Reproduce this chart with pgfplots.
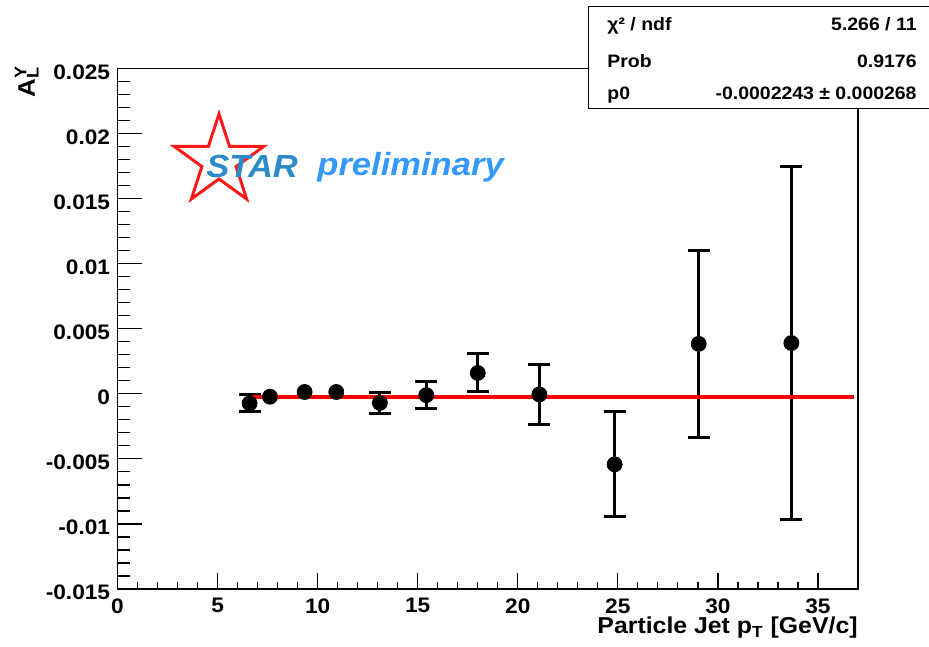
\documentclass[border=0pt]{standalone}
\usepackage{fontspec}
\setmainfont{Liberation Sans}[FakeStretch=1.08]
\usepackage{pgfplots}
\pgfplotsset{compat=1.18}
\definecolor{starblue}{RGB}{45,140,200}
\definecolor{prelblue}{RGB}{51,153,255}
\pgfplotsset{
  rootframe/.style={
    at={(0,0)}, anchor=south west,
    width=370.25bp, height=260.25bp, scale only axis,
    xmin=0, xmax=37, ymin=-0.015, ymax=0.025,
    axis line style={line width=0.6bp},
    tick align=inside, tick pos=left,
    tick style={line width=0.6bp, black},
    scaled x ticks=false, scaled y ticks=false,
  }
}
\begin{document}
\begin{tikzpicture}
% axis carrying the y ticks
\begin{axis}[rootframe,
  xtick=\empty,
  ytick={-0.015,-0.01,-0.005,0,0.005,0.01,0.015,0.02,0.025},
  yticklabels={-0.015,-0.01,-0.005,0,0.005,0.01,0.015,0.02,0.025},
  minor y tick num=4,
  major tick length=12bp, minor tick length=6bp,
  yticklabel style={font=\fontsize{10.5bp}{12bp}\selectfont\bfseries, inner sep=0pt, anchor=east, xshift=-3.5bp, yshift=-1.75bp},
]
\end{axis}
% axis carrying the x ticks and the data
\begin{axis}[rootframe,
  ytick=\empty,
  xtick={0,5,10,15,20,25,30,35},
  xticklabels={0,5,10,15,20,25,30,35},
  minor x tick num=4,
  major tick length=8bp, minor tick length=3.75bp,
  xticklabel style={font=\fontsize{10.5bp}{12bp}\selectfont\bfseries, inner sep=0pt, anchor=north, yshift=-4.5bp},
]
\addplot[only marks, mark=*, mark size=3.75bp, black, mark options={fill=black, draw=black},
  error bars/.cd, y dir=both, y explicit,
  error bar style={line width=1.5bp, black},
  error mark options={rotate=90, mark size=5.5bp, line width=1.5bp, black}]
  table[x=x, y=y, y error=e] {
x      y          e
6.60   -0.000735  0.000645
13.11  -0.00070   0.00078
15.43  -0.00010   0.00106
18.00   0.00160   0.00146
21.08  -0.00005   0.00230
24.84  -0.00542   0.00403
29.04   0.00384   0.00721
33.67   0.00390   0.01355
};
\addplot[only marks, mark=*, mark size=3.75bp, black, mark options={fill=black, draw=black}]
  table[x=x, y=y] {
x      y
7.62  -0.00022
9.35   0.00014
10.93  0.00014
};
\addplot[red, line width=2bp] coordinates {(6.71,-0.0002243) (36.82,-0.0002243)};
\end{axis}
\begin{scope}[shift={(-58.75bp,294.5bp)}, x=0.5bp, y=-0.5bp]
  % STAR logo
  \begin{scope}[shift={(219,161)}, yscale=-1]
    \draw[red!90!white, line width=1.5bp, line join=miter]
      (90:47) -- (126:18) -- (162:47) -- (198:18) -- (234:47) -- (270:18)
      -- (306:47) -- (342:18) -- (18:47) -- (54:18) -- cycle;
  \end{scope}
  \node[anchor=base west, inner sep=0pt, font=\fontsize{16bp}{18bp}\selectfont\bfseries\itshape, text=starblue] at (206,178) {STAR};
  \node[anchor=base west, inner sep=0pt, font=\fontsize{16bp}{18bp}\selectfont\bfseries\itshape, text=prelblue] at (317,176) {preliminary};
  % stats box
  \draw[fill=white, line width=0.5bp] (588,7) rectangle (945,109);
  \begin{scope}[every node/.style={inner sep=0pt, font=\fontsize{9bp}{10bp}\selectfont\bfseries}]
    \node[anchor=base west] at (607,31) {χ² / ndf};
    \node[anchor=base east] at (917,31) {5.266 / 11};
    \node[anchor=base west] at (607,68) {Prob};
    \node[anchor=base east] at (917,68) {0.9176};
    \node[anchor=base west] at (607,100) {p0};
    \node[anchor=base east] at (917,100) {-0.0002243 ± 0.000268};
  \end{scope}
  % axis titles
  \node[anchor=base east, inner sep=0pt, font=\fontsize{11.5bp}{13bp}\selectfont\bfseries] at (858,634) {Particle Jet p\textsubscript{T} [GeV/c]};
  \node[rotate=90, anchor=base east, inner sep=0pt, font=\fontsize{12bp}{14bp}\selectfont\bfseries] at (35,66) {A\rlap{\textsuperscript{Y}}\textsubscript{L}};
  \pgfresetboundingbox
  \useasboundingbox (0,0) rectangle (929,647);
\end{scope}
\end{tikzpicture}
\end{document}
